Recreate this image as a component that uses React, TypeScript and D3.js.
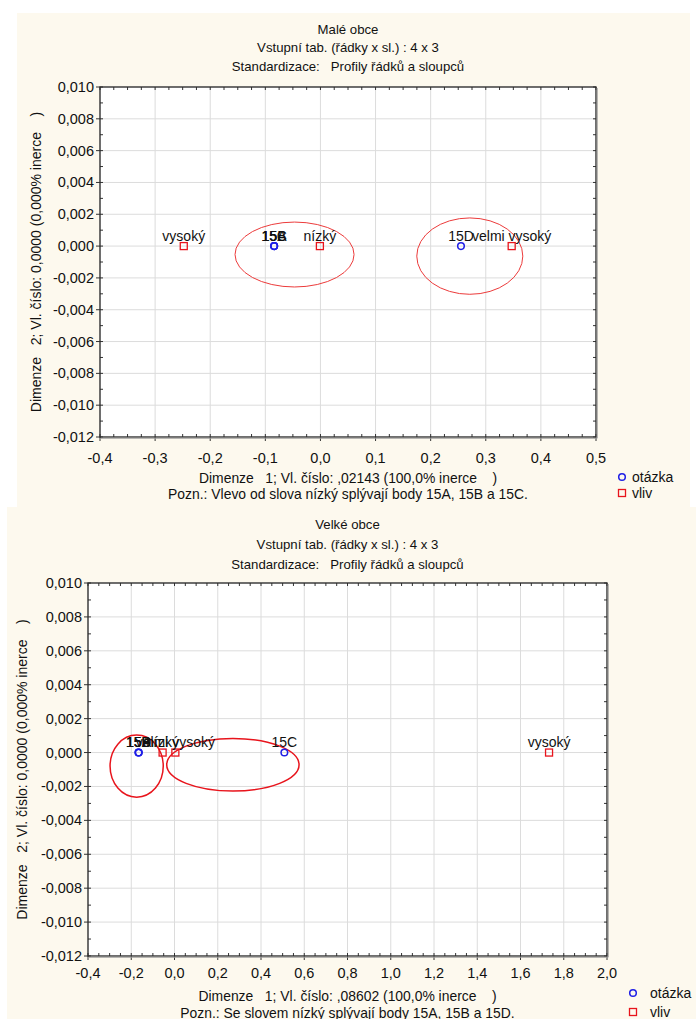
import React from "react";
import * as d3 from "d3";

// ---------- data ----------
const questionLabels = ["15A", "15B", "15C", "15D"];
const influenceLabels = ["vysoký", "nízký", "velmi vysoký"];

const smallQX = [-0.084, -0.084, -0.084, 0.255];
const smallQY = [0, 0, 0, 0];
const smallVX = [-0.248, -0.001, 0.347];
const smallVY = [0, 0, 0];
const smallEllCX = [-0.047, 0.271];
const smallEllCY = [-0.00053, -0.00063];
const smallEllRX = [0.108, 0.0962];
const smallEllRY = [0.00204, 0.0024];

const largeQX = [-0.166, -0.166, 0.508, -0.166];
const largeQY = [0, 0, 0, 0];
const largeVX = [1.732, -0.055, 0.004];
const largeVY = [0, 0, 0];
const largeEllCX = [-0.175, 0.27];
const largeEllCY = [-0.0008, -0.00072];
const largeEllRX = [0.123, 0.306];
const largeEllRY = [0.00183, 0.00155];

const smallXTicks = [-0.4, -0.3, -0.2, -0.1, 0, 0.1, 0.2, 0.3, 0.4, 0.5];
const largeXTicks = [-0.4, -0.2, 0, 0.2, 0.4, 0.6, 0.8, 1.0, 1.2, 1.4, 1.6, 1.8, 2.0];
const yTicks = [0.01, 0.008, 0.006, 0.004, 0.002, 0, -0.002, -0.004, -0.006, -0.008, -0.01, -0.012];

const titleSmall = "Malé obce";
const titleLarge = "Velké obce";
const subtitle1 = "Vstupní tab. (řádky x sl.) : 4 x 3";
const subtitle2 = "Standardizace:   Profily řádků a sloupců";
const yTitle = "Dimenze   2; Vl. číslo: 0,0000 (0,000% inerce    )";
const xTitleSmall = "Dimenze   1; Vl. číslo: ,02143 (100,0% inerce    )";
const xTitleLarge = "Dimenze   1; Vl. číslo: ,08602 (100,0% inerce    )";
const noteSmall = "Pozn.: Vlevo od slova nízký splývají body 15A, 15B a 15C.";
const noteLarge = "Pozn.: Se slovem nízký splývají body 15A, 15B a 15D.";
const legendLabels = ["otázka", "vliv"];

const FONT = "'Liberation Sans', Arial, sans-serif";
const BG = "#fdf9ee";

type PanelProps = {
  bg: [number, number, number, number];
  plot: [number, number, number, number];
  xDomain: [number, number];
  xTicks: number[];
  xMinor: number;
  xDec: number;
  title: string;
  titleY: number[];
  xLabelY: number;
  xTitle: string;
  note: string;
  xTitleY: number;
  noteY: number;
  yTitleX: number;
  yLabelX: number;
  legendX: number;
  legendTextX: number;
  legendY: number[];
  qx: number[];
  qy: number[];
  vx: number[];
  vy: number[];
  ecx: number[];
  ecy: number[];
  erx: number[];
  ery: number[];
  ellW: number;
  ellColor: string;
};

const fmt = (v: number, dec: number) => {
  const s = Math.abs(v).toFixed(dec).replace(".", ",");
  return (v < -1e-9 ? "-" : "") + s;
};

function Panel(p: PanelProps) {
  const [x0, y0, x1, y1] = p.plot;
  const x = d3.scaleLinear().domain(p.xDomain).range([x0, x1]);
  const y = d3.scaleLinear().domain([-0.012, 0.01]).range([y1, y0]);
  const xMinorTicks = d3.range(p.xDomain[0], p.xDomain[1] + 1e-9, p.xMinor);
  const yMinorTicks = d3.range(-0.012, 0.01 + 1e-9, 0.001);
  const cx = (x0 + x1) / 2;
  const cy = (y0 + y1) / 2;
  return (
    <g>
      <rect x={p.bg[0]} y={p.bg[1]} width={p.bg[2]} height={p.bg[3]} fill={BG} />
      <rect x={x0} y={y0} width={x1 - x0} height={y1 - y0} fill="#fff" />
      {/* grid */}
      {p.xTicks.map((t, i) => (
        <line key={"gx" + i} x1={x(t)} x2={x(t)} y1={y0} y2={y1} stroke="#dcdcdc" strokeWidth={1} />
      ))}
      {yTicks.map((t, i) => (
        <line key={"gy" + i} x1={x0} x2={x1} y1={y(t)} y2={y(t)} stroke="#dcdcdc" strokeWidth={1} />
      ))}
      {/* minor ticks inside */}
      {xMinorTicks.map((t, i) => (
        <g key={"mx" + i}>
          <line x1={x(t)} x2={x(t)} y1={y0} y2={y0 + 3} stroke="#333" />
          <line x1={x(t)} x2={x(t)} y1={y1} y2={y1 - 3} stroke="#333" />
        </g>
      ))}
      {yMinorTicks.map((t, i) => (
        <g key={"my" + i}>
          <line x1={x0} x2={x0 + 3} y1={y(t)} y2={y(t)} stroke="#333" />
          <line x1={x1} x2={x1 - 3} y1={y(t)} y2={y(t)} stroke="#333" />
        </g>
      ))}
      {/* major ticks outside */}
      {p.xTicks.map((t, i) => (
        <line key={"tx" + i} x1={x(t)} x2={x(t)} y1={y1} y2={y1 + 4} stroke="#333" />
      ))}
      {yTicks.map((t, i) => (
        <line key={"ty" + i} x1={x0 - 4} x2={x0} y1={y(t)} y2={y(t)} stroke="#333" />
      ))}
      {/* frame */}
      <rect x={x0} y={y0} width={x1 - x0} height={y1 - y0} fill="none" stroke="#2a2a2a" strokeWidth={1.3} />
      <line x1={x1 + 1.2} x2={x1 + 1.2} y1={y0 + 1} y2={y1 + 1.2} stroke="#999" strokeWidth={1} />
      <line x1={x0 + 1} x2={x1 + 1.2} y1={y1 + 1.2} y2={y1 + 1.2} stroke="#999" strokeWidth={1} />
      {/* tick labels */}
      {p.xTicks.map((t, i) => (
        <text key={"lx" + i} x={x(t)} y={p.xLabelY} textAnchor="middle" fontSize={14.5} fontFamily={FONT} fill="#111">
          {fmt(t, p.xDec)}
        </text>
      ))}
      {yTicks.map((t, i) => (
        <text key={"ly" + i} x={p.yLabelX} y={y(t) + 5} textAnchor="end" fontSize={14.5} fontFamily={FONT} fill="#111">
          {fmt(t, 3)}
        </text>
      ))}
      {/* titles */}
      {[p.title, subtitle1, subtitle2].map((s, i) => (
        <text key={"t" + i} x={cx} y={p.titleY[i]} textAnchor="middle" fontSize={13.2} fontFamily={FONT} fill="#111" style={{ whiteSpace: "pre" }}>
          {s}
        </text>
      ))}
      <text x={cx} y={p.xTitleY} textAnchor="middle" fontSize={13.9} fontFamily={FONT} fill="#111" style={{ whiteSpace: "pre" }}>
        {p.xTitle}
      </text>
      <text x={cx} y={p.noteY} textAnchor="middle" fontSize={13.9} fontFamily={FONT} fill="#111">
        {p.note}
      </text>
      <text
        transform={`translate(${p.yTitleX},${cy}) rotate(-90)`}
        textAnchor="middle"
        fontSize={14}
        fontFamily={FONT}
        fill="#111"
        style={{ whiteSpace: "pre" }}
      >
        {yTitle}
      </text>
      {/* ellipses */}
      {p.ecx.map((c, i) => (
        <ellipse
          key={"e" + i}
          cx={x(c)}
          cy={y(p.ecy[i])}
          rx={x(p.xDomain[0] + p.erx[i]) - x(p.xDomain[0])}
          ry={y(-0.012) - y(-0.012 + p.ery[i])}
          fill="none"
          stroke={p.ellColor}
          strokeWidth={p.ellW}
        />
      ))}
      {/* points */}
      {p.qx.map((v, i) => (
        <circle key={"q" + i} cx={x(v)} cy={y(p.qy[i])} r={3.3} fill="none" stroke="#1f1fe6" strokeWidth={1.5} />
      ))}
      {p.vx.map((v, i) => (
        <rect key={"v" + i} x={x(v) - 3.5} y={y(p.vy[i]) - 3.5} width={7} height={7} fill="none" stroke="#e8141c" strokeWidth={1.3} />
      ))}
      {p.qx.map((v, i) => (
        <text key={"ql" + i} x={x(v)} y={y(p.qy[i]) - 5.5} textAnchor="middle" fontSize={14} fontFamily={FONT} fill="#111">
          {questionLabels[i]}
        </text>
      ))}
      {p.vx.map((v, i) => (
        <text key={"vl" + i} x={x(v)} y={y(p.vy[i]) - 5.5} textAnchor="middle" fontSize={14} fontFamily={FONT} fill="#111">
          {influenceLabels[i]}
        </text>
      ))}
      {/* legend */}
      <circle cx={p.legendX} cy={p.legendY[0]} r={3.3} fill="none" stroke="#1f1fe6" strokeWidth={1.5} />
      <rect x={p.legendX - 3.5} y={p.legendY[1] - 3.5} width={7} height={7} fill="none" stroke="#e8141c" strokeWidth={1.3} />
      {legendLabels.map((s, i) => (
        <text key={"lg" + i} x={p.legendTextX} y={p.legendY[i] + 5} fontSize={14} fontFamily={FONT} fill="#111">
          {s}
        </text>
      ))}
    </g>
  );
}

export default function App() {
  return (
    <svg width={696} height={1019} style={{ position: "absolute", left: 0, top: 0, background: "#fff" }}>
      <Panel
        bg={[17, 13, 673, 494]}
        plot={[100, 87, 596, 437]}
        xDomain={[-0.4, 0.5]}
        xTicks={smallXTicks}
        xMinor={0.025}
        xDec={1}
        title={titleSmall}
        titleY={[34, 52, 71]}
        xLabelY={463}
        xTitle={xTitleSmall}
        note={noteSmall}
        xTitleY={483}
        noteY={499}
        yTitleX={41}
        yLabelX={94}
        legendX={622}
        legendTextX={632}
        legendY={[477, 493]}
        qx={smallQX}
        qy={smallQY}
        vx={smallVX}
        vy={smallVY}
        ecx={smallEllCX}
        ecy={smallEllCY}
        erx={smallEllRX}
        ery={smallEllRY}
        ellW={1}
        ellColor="#ec3b3b"
      />
      <Panel
        bg={[7, 507, 689, 512]}
        plot={[88, 583, 607, 956]}
        xDomain={[-0.4, 2.0]}
        xTicks={largeXTicks}
        xMinor={0.05}
        xDec={1}
        title={titleLarge}
        titleY={[529, 549, 569]}
        xLabelY={978}
        xTitle={xTitleLarge}
        note={noteLarge}
        xTitleY={1001}
        noteY={1018}
        yTitleX={27}
        yLabelX={82}
        legendX={633}
        legendTextX={650}
        legendY={[993, 1012]}
        qx={largeQX}
        qy={largeQY}
        vx={largeVX}
        vy={largeVY}
        ecx={largeEllCX}
        ecy={largeEllCY}
        erx={largeEllRX}
        ery={largeEllRY}
        ellW={1.5}
        ellColor="#e8141c"
      />
    </svg>
  );
}
